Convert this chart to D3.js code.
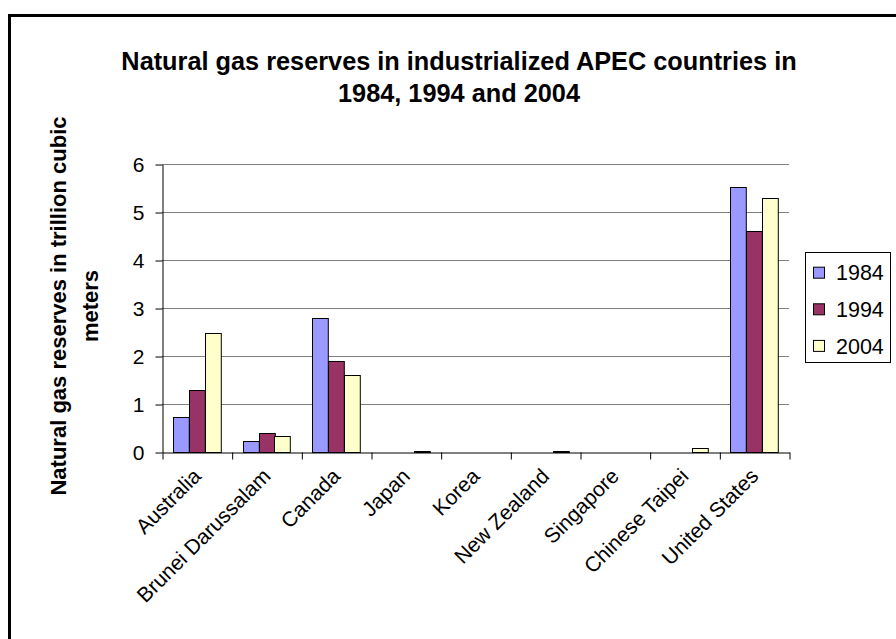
<!DOCTYPE html>
<html>
<head>
<meta charset="utf-8">
<script src="https://cdn.jsdelivr.net/npm/d3@7"></script>
<style>
  html, body { margin: 0; padding: 0; background: #fff; }
  svg { display: block; font-family: "Liberation Sans", Arial, sans-serif; }
</style>
</head>
<body>
<svg id="chart" width="896" height="639"></svg>
<script>
// Natural gas reserves (trillion cubic meters) by economy and year
const categories = ["Australia", "Brunei Darussalam", "Canada", "Japan", "Korea",
                    "New Zealand", "Singapore", "Chinese Taipei", "United States"];
const seriesNames = ["1984", "1994", "2004"];
const values1984 = [0.73, 0.23, 2.80, 0, 0, 0, 0, 0, 5.53];
const values1994 = [1.30, 0.40, 1.90, 0, 0, 0, 0, 0, 4.61];
const values2004 = [2.47, 0.33, 1.60, 0.03, 0, 0.03, 0, 0.08, 5.30];
const yTicks = [0, 1, 2, 3, 4, 5, 6];
const seriesColors = ["#9999FF", "#993366", "#FFFFCC"];

const titleLines = ["Natural gas reserves in industrialized APEC countries in", "1984, 1994 and 2004"];
const yTitleLines = ["Natural gas reserves in trillion cubic", "meters"];

const allSeries = [values1984, values1994, values2004];

const svg = d3.select("#chart");
svg.append("rect").attr("width", 896).attr("height", 639).attr("fill", "#fff");

// outer chart frame (only top and left edges fall inside the view)
svg.append("rect")
  .attr("x", 9.5).attr("y", 15.5).attr("width", 1000).attr("height", 1000)
  .attr("fill", "none").attr("stroke", "#000").attr("stroke-width", 3);

const plot = { left: 162, top: 164, width: 627, height: 288 };

const y = d3.scaleLinear().domain([0, 6]).range([plot.top + plot.height, plot.top]);
const pad = 0.32;
const x0 = d3.scaleBand().domain(categories)
  .range([plot.left, plot.left + plot.width])
  .paddingInner(pad).paddingOuter(pad / 2);
const x1 = d3.scaleBand().domain(seriesNames).range([0, x0.bandwidth()]);
const xEdge = d3.scaleLinear().domain([0, categories.length])
  .range([plot.left, plot.left + plot.width]);

// horizontal gridlines
svg.append("g").selectAll("line")
  .data(yTicks.filter(t => t > 0))
  .join("line")
  .attr("x1", plot.left).attr("x2", plot.left + plot.width)
  .attr("y1", d => Math.round(y(d)) + 0.5).attr("y2", d => Math.round(y(d)) + 0.5)
  .attr("stroke", "#808080").attr("stroke-width", 1);

// bars
const rows = [];
categories.forEach((c, i) => {
  seriesNames.forEach((s, j) => {
    const v = allSeries[j][i];
    if (v > 0) rows.push({ c, s, v, j });
  });
});
svg.append("g").selectAll("rect")
  .data(rows)
  .join("rect")
  .attr("x", d => Math.round(x0(d.c) + x1(d.s)) + 0.5)
  .attr("width", x1.bandwidth())
  .attr("y", d => Math.round(y(d.v)) + 0.5)
  .attr("height", d => Math.round(y(0)) - Math.round(y(d.v)))
  .attr("fill", d => seriesColors[d.j])
  .attr("stroke", "#000").attr("stroke-width", 1);

// y axis
const yAxis = svg.append("g")
  .attr("transform", `translate(${plot.left + 0.5},0.5)`)
  .call(d3.axisLeft(y).tickValues(yTicks).tickFormat(d3.format("d"))
    .tickSize(7).tickSizeOuter(0).tickPadding(11));
yAxis.selectAll("text").attr("font-size", 21).attr("fill", "#000")
  .attr("font-family", "Liberation Sans, Arial, sans-serif");
yAxis.selectAll("line, path").attr("stroke", "#000");

// x axis with ticks between categories
const xAxis = svg.append("g")
  .attr("transform", `translate(0.5,${plot.top + plot.height + 0.5})`)
  .call(d3.axisBottom(xEdge).tickValues(d3.range(categories.length + 1))
    .tickSize(7).tickSizeOuter(0).tickFormat(""));
xAxis.selectAll("line, path").attr("stroke", "#000");

// rotated category labels
svg.append("g").selectAll("text")
  .data(categories)
  .join("text")
  .attr("transform", d => `translate(${x0(d) + x0.bandwidth() / 2 - 5},${plot.top + plot.height + 15}) rotate(-45)`)
  .attr("text-anchor", "end")
  .attr("dy", "0.7em")
  .attr("font-size", 21)
  .text(d => d);

// title
svg.append("g").selectAll("text")
  .data(titleLines)
  .join("text")
  .attr("x", 459).attr("y", (d, i) => 70 + i * 31.7)
  .attr("text-anchor", "middle")
  .attr("font-size", 25.3).attr("font-weight", "bold")
  .text(d => d);

// y axis title
svg.append("g").selectAll("text")
  .data(yTitleLines)
  .join("text")
  .attr("transform", (d, i) => `translate(${66 + i * 32},${plot.top + plot.height / 2 - 2}) rotate(-90)`)
  .attr("text-anchor", "middle")
  .attr("font-size", 22).attr("font-weight", "bold")
  .text(d => d);

// legend
const legend = svg.append("g");
legend.append("rect")
  .attr("x", 805.5).attr("y", 252.5).attr("width", 85).attr("height", 110)
  .attr("fill", "#fff").attr("stroke", "#000").attr("stroke-width", 1);
const items = legend.selectAll("g.item")
  .data(seriesNames)
  .join("g").attr("class", "item")
  .attr("transform", (d, i) => `translate(0,${272.7 + i * 36.6})`);
items.append("rect")
  .attr("x", 813.5).attr("y", -5.5).attr("width", 11).attr("height", 11)
  .attr("fill", (d, i) => seriesColors[i]).attr("stroke", "#000");
items.append("text")
  .attr("x", 836).attr("dy", "0.36em")
  .attr("font-size", 21.5)
  .text(d => d);
</script>
</body>
</html>
